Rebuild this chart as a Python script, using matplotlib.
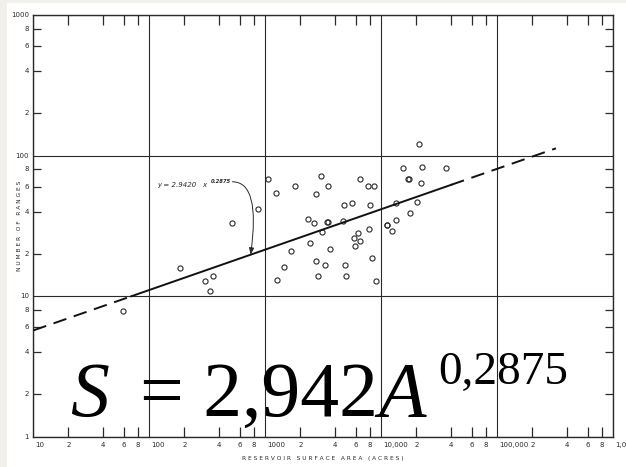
import numpy as np
import matplotlib
matplotlib.use('Agg')
import matplotlib.pyplot as plt
from matplotlib import ticker
from matplotlib.patches import Rectangle
from matplotlib.transforms import blended_transform_factory, offset_copy

# reservoir surface area (acres) against number of ranges
area = [59, 184, 302, 357, 333, 520, 859, 1050, 1245, 1270,
        1450, 1670, 1810, 2340, 2640, 2740, 2430, 2720, 2840, 3050,
        3490, 3400, 3450, 3110, 3610, 3300, 4830, 5010, 4660, 4810,
        5610, 6290, 5790, 6500, 5900, 6610, 7710, 8690, 8010, 7790,
        8340, 9040, 11100, 11300, 12300, 13300, 13300, 17600, 20300, 15500,
        17100, 17300, 22100, 22300, 36300, 21300]
ranges = [7.9, 15.8, 12.9, 14.0, 10.9, 32.9, 41.6, 68.1, 54.4, 13.0,
          16.0, 20.9, 60.5, 35.1, 33.3, 53.5, 23.8, 17.8, 13.9, 71.3,
          60.7, 33.8, 33.8, 28.7, 21.8, 16.7, 16.7, 14.0, 34.1, 44.4,
          45.7, 28.1, 25.9, 24.8, 22.8, 68.0, 61.0, 61.0, 44.6, 29.8,
          18.7, 12.9, 32.0, 32.0, 29.0, 34.9, 46.0, 39.1, 46.9, 81.9,
          67.7, 67.7, 63.5, 82.4, 81.1, 120.7]

# fitted power law
coef = 2.942
expo = 0.2875
solid_span = (70, 40000)
dash_spans = [(10, 70), (40000, 320000)]

x_decades = [10, 100, 1000, 10000, 100000, 1000000]
x_decade_labels = ['10', '100', '1000', '10,000', '100,000', '1,000,000']
y_decades = [1, 10, 100, 1000]
y_decade_labels = ['1', '10', '100', '1000']
subs = [2, 4, 6, 8]

ink = '#2a2a2a'
W, H = 626, 467

fig = plt.figure(figsize=(W / 100, H / 100), dpi=100)
fig.patch.set_facecolor('white')
fig.patches.append(Rectangle((0, 0), 7 / W, 1, transform=fig.transFigure,
                             facecolor='#f1f0eb', edgecolor='none', zorder=-5))
fig.patches.append(Rectangle((0, 1 - 3 / H), 1, 3 / H, transform=fig.transFigure,
                             facecolor='#f1f0eb', edgecolor='none', zorder=-5))

ax = fig.add_axes([33.3 / W, (H - 436.7) / H, 580 / W, 421.7 / H])
ax.set_xscale('log')
ax.set_yscale('log')
ax.set_xlim(10, 1e6)
ax.set_ylim(1, 1000)

for s in ax.spines.values():
    s.set_color(ink)
    s.set_linewidth(1.0)

ax.xaxis.set_major_locator(ticker.FixedLocator(x_decades))
ax.yaxis.set_major_locator(ticker.FixedLocator(y_decades))
ax.xaxis.set_minor_locator(ticker.LogLocator(base=10, subs=subs))
ax.yaxis.set_minor_locator(ticker.LogLocator(base=10, subs=subs))
ax.xaxis.set_major_formatter(ticker.NullFormatter())
ax.yaxis.set_major_formatter(ticker.NullFormatter())
ax.xaxis.set_minor_formatter(ticker.NullFormatter())
ax.yaxis.set_minor_formatter(ticker.NullFormatter())
ax.tick_params(which='major', length=0)
ax.tick_params(axis='x', which='minor', direction='in', top=True, bottom=True,
               length=7.2, width=0.9, color=ink)
ax.tick_params(axis='y', which='minor', direction='in', left=True, right=True,
               length=5.8, width=0.9, color=ink)
ax.grid(which='major', color=ink, lw=0.8)

# hand-lettered style tick labels
lab_font = dict(fontsize=5, color=ink, family='DejaVu Sans')
tx = offset_copy(blended_transform_factory(ax.transData, ax.transAxes),
                 fig=fig, y=-6, units='points')
for d, lab in zip(x_decades, x_decade_labels):
    ax.text(d * 1.03, 0, lab, transform=tx, ha='left', va='center', **lab_font)
    if d < x_decades[-1]:
        for s in subs:
            ax.text(d * s, 0, str(s), transform=tx, ha='center', va='center', **lab_font)
ty = offset_copy(blended_transform_factory(ax.transAxes, ax.transData),
                 fig=fig, x=-3, units='points')
for d, lab in zip(y_decades, y_decade_labels):
    ax.text(0, d, lab, transform=ty, ha='right', va='center', **lab_font)
    if d < y_decades[-1]:
        for s in subs:
            ax.text(0, d * s, str(s), transform=ty, ha='right', va='center', **lab_font)

ax.text(0.5, -0.052, 'R E S E R V O I R   S U R F A C E   A R E A   ( A C R E S )',
        transform=ax.transAxes, ha='center', va='center', fontsize=4.2, color=ink)
ax.text(-0.024, 0.5, 'N U M B E R   O F   R A N G E S', transform=ax.transAxes,
        ha='center', va='center', rotation=90, fontsize=4.2, color=ink)

# data points
ax.plot(area, ranges, 'o', ms=3.7, mfc='none', mec=ink, mew=0.8, zorder=3)

# regression line, solid over the data and dashed beyond it
xs = np.logspace(np.log10(solid_span[0]), np.log10(solid_span[1]), 60)
ax.plot(xs, coef * xs ** expo, color='#111111', lw=1.4, zorder=4)
for a, b in dash_spans:
    xd = np.logspace(np.log10(a), np.log10(b), 60)
    ax.plot(xd, coef * xd ** expo, color='#111111', lw=1.4,
            ls=(0, (7, 4)), zorder=4, clip_on=False)

# equation label with curved leader
eq_font = dict(style='italic', color=ink, va='center', ha='left')
ax.text(118, 61.7, 'y = 2.9420', fontsize=5, **eq_font)
ax.text(283, 61.7, 'x', fontsize=5, **eq_font)
ax.text(338, 65.9, '0.2875', fontsize=3.8, weight='bold', **eq_font)
x_tip = 747
ax.annotate('', xy=(x_tip, coef * x_tip ** expo), xytext=(520, 65.1),
            arrowprops=dict(arrowstyle='-|>,head_length=0.4,head_width=0.15',
                            color=ink, lw=0.7, shrinkA=0, shrinkB=0,
                            connectionstyle='angle3,angleA=0,angleB=82'))

# large equation overlay
big = dict(family='Liberation Serif', color='black', va='baseline', ha='left')
base = 1 - 416 / H
fig.text(70 / W, base, 'S', fontsize=56, style='italic', **big)
fig.text(140 / W, base, '= 2,942', fontsize=56, **big)
fig.text(378 / W, base, 'A', fontsize=56, style='italic', **big)
fig.text(438 / W, 1 - 384 / H, '0,2875', fontsize=34, **big)

fig.savefig('out.png', dpi=100)
